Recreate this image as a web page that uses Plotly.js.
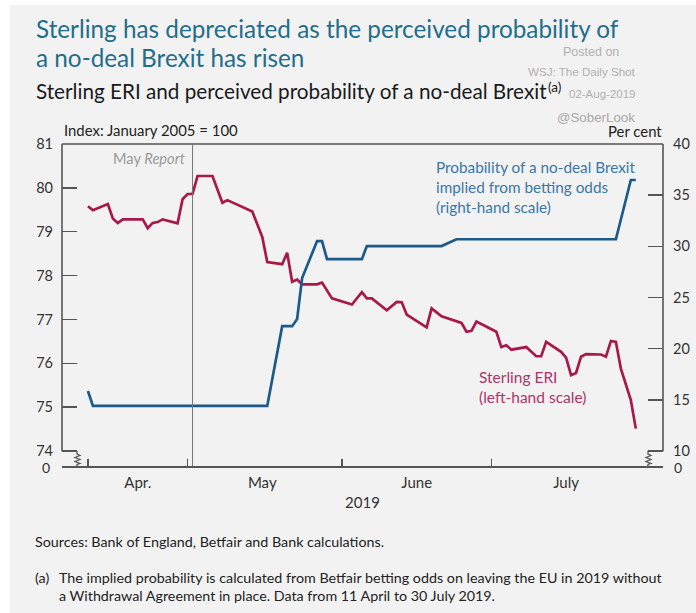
<!DOCTYPE html>
<html>
<head>
<meta charset="utf-8">
<script src="https://cdn.plot.ly/plotly-3.0.1.min.js"></script>
<style>
  html, body { margin: 0; padding: 0; background: #ffffff; }
  #chart { width: 696px; height: 613px; }
</style>
</head>
<body>
<div id="chart"></div>
<script>
// ---------- data ----------
const eriDates = ['2019-04-11','2019-04-12','2019-04-15','2019-04-16','2019-04-17','2019-04-18','2019-04-22','2019-04-23','2019-04-24','2019-04-25','2019-04-26','2019-04-29','2019-04-30',
  '2019-05-01','2019-05-02','2019-05-03','2019-05-06','2019-05-08','2019-05-09','2019-05-11','2019-05-14','2019-05-16','2019-05-17','2019-05-20','2019-05-21','2019-05-22','2019-05-23','2019-05-24','2019-05-27','2019-05-28','2019-05-30',
  '2019-06-03','2019-06-05','2019-06-06','2019-06-07','2019-06-10','2019-06-12','2019-06-13','2019-06-14','2019-06-18','2019-06-19','2019-06-21','2019-06-24','2019-06-25','2019-06-26','2019-06-27','2019-06-28',
  '2019-07-02','2019-07-03','2019-07-04','2019-07-05','2019-07-08','2019-07-10','2019-07-11','2019-07-12','2019-07-15','2019-07-16','2019-07-17','2019-07-18','2019-07-19','2019-07-20','2019-07-23','2019-07-24','2019-07-25','2019-07-26','2019-07-27','2019-07-29','2019-07-30'];
const eriValues = [79.58,79.49,79.63,79.30,79.20,79.28,79.28,79.08,79.20,79.22,79.28,79.19,79.74,
  79.86,79.86,80.27,80.27,79.66,79.72,79.61,79.46,78.88,78.31,78.26,78.52,77.86,77.91,77.80,77.80,77.84,77.48,
  77.34,77.62,77.48,77.48,77.21,77.40,77.39,77.11,76.82,77.25,77.07,76.97,76.92,76.72,76.74,76.95,
  76.72,76.37,76.41,76.31,76.37,76.16,76.16,76.49,76.26,76.13,75.73,75.78,76.15,76.21,76.20,76.15,76.51,76.49,75.88,75.16,74.51];

const probDates = ['2019-04-11','2019-04-12','2019-05-17','2019-05-20','2019-05-22','2019-05-23','2019-05-24','2019-05-27','2019-05-28','2019-05-29','2019-06-05','2019-06-06','2019-06-21','2019-06-24','2019-07-26','2019-07-29','2019-07-30'];
const probValues = [15.86,14.4,14.4,22.2,22.2,22.9,26.9,30.5,30.5,28.75,28.75,30.03,30.03,30.69,30.69,36.48,36.48];

const monthTickDates = ['2019-04-21','2019-05-16','2019-06-16','2019-07-16'];
const monthTickLabels = ['Apr.','May','June','July'];
const monthBoundaries = ['2019-04-11','2019-05-01','2019-06-01','2019-07-01'];
const leftTicks = [74,75,76,77,78,79,80,81];
const rightTicks = [10,15,20,25,30,35,40];
const mayReportDate = '2019-05-02';

// ---------- helpers (page pixel -> paper) ----------
const L = 62, R = 663, T = 144, B = 466;
const PX = x => (x - L) / (R - L);
const PY = y => (B - y) / (B - T);
const path = pts => pts.map((p, i) => (i ? 'L' : 'M') + PX(p[0]).toFixed(4) + ',' + PY(p[1]).toFixed(4)).join(' ');

const FONT = 'Lato, "Open Sans", sans-serif';
const WM = 'Liberation Sans, Arial, sans-serif';
const AX = '#555555';
const RED = '#a8184b';
const BLUE = '#1c5a8a';

const traces = [
  { x: eriDates, y: eriValues, type: 'scatter', mode: 'lines', yaxis: 'y',
    line: { color: RED, width: 2.7 }, hoverinfo: 'skip', showlegend: false },
  { x: probDates, y: probValues, type: 'scatter', mode: 'lines', yaxis: 'y2',
    line: { color: BLUE, width: 2.7 }, hoverinfo: 'skip', showlegend: false }
];

function ann(text, x, y, opts) {
  return Object.assign({ text: text, x: PX(x), y: PY(y), xref: 'paper', yref: 'paper',
    showarrow: false, xanchor: 'left', yanchor: 'middle',
    font: { family: FONT, size: 13, color: '#222' } }, opts || {});
}

const annotations = [
  ann('Sterling has depreciated as the perceived probability of', 34, 28, { font: { family: FONT, size: 24.3, color: '#1f6e8c' } }),
  ann('a no-deal Brexit has risen', 34, 57, { font: { family: FONT, size: 24.3, color: '#1f6e8c' } }),
  ann('Sterling ERI and perceived probability of a no-deal Brexit', 34, 91, { font: { family: FONT, size: 20.7, color: '#1a1a1a' } }),
  ann('(a)', 546, 87, { font: { family: FONT, size: 13.5, color: '#1a1a1a' } }),
  ann('Posted on', 561, 52, { font: { family: WM, size: 12.5, color: '#b0b0b0' } }),
  ann('WSJ: The Daily Shot', 638, 71, { xanchor: 'right', font: { family: WM, size: 11.6, color: '#b0b0b0' } }),
  ann('02-Aug-2019', 638, 94, { xanchor: 'right', font: { family: WM, size: 11.5, color: '#b0b0b0' } }),
  ann('@SoberLook', 637, 118, { xanchor: 'right', font: { family: WM, size: 13.3, color: '#a8a8a8' } }),
  ann('Index: January 2005 = 100', 62, 130, { font: { family: FONT, size: 14.9, color: '#222' } }),
  ann('Per cent', 664, 131, { xanchor: 'right', font: { family: FONT, size: 14.9, color: '#222' } }),
  ann('May <i>Report</i>', 187, 158, { xanchor: 'right', font: { family: FONT, size: 14.6, color: '#9a9a9a' } }),
  ann('Probability of a no-deal Brexit<br>implied from betting odds<br>(right-hand scale)', 434, 187, { align: 'left', font: { family: FONT, size: 15.3, color: '#3a78a6' } }),
  ann('Sterling ERI<br>(left-hand scale)', 477, 387, { align: 'left', font: { family: FONT, size: 15.5, color: '#b03468' } }),
  ann('0', 52, 468, { xanchor: 'right', font: { family: FONT, size: 14, color: '#333' } }),
  ann('0', 672, 468, { font: { family: FONT, size: 14, color: '#333' } }),
  ann('Sources: Bank of England, Betfair and Bank calculations.', 33, 541, { font: { family: FONT, size: 14.3, color: '#222' } }),
  ann('(a)', 33, 577, { font: { family: FONT, size: 14.3, color: '#222' } }),
  ann('The implied probability is calculated from Betfair betting odds on leaving the EU in 2019 without', 57, 577, { font: { family: FONT, size: 14.3, color: '#222' } }),
  ann('a Withdrawal Agreement in place. Data from 11 April to 30 July 2019.', 57, 595, { font: { family: FONT, size: 14.3, color: '#222' } })
];

const lineStyle = { color: AX, width: 1.6 };
const shapes = [
  // white border of the screenshot
  { type: 'rect', xref: 'paper', yref: 'paper', x0: PX(0), x1: PX(10), y0: PY(613), y1: PY(0), fillcolor: '#ffffff', line: { width: 0 }, layer: 'below' },
  { type: 'rect', xref: 'paper', yref: 'paper', x0: PX(0), x1: PX(696), y0: PY(5), y1: PY(0), fillcolor: '#ffffff', line: { width: 0 }, layer: 'below' },
  // frame
  { type: 'line', xref: 'paper', yref: 'y', x0: 0, x1: 0, y0: 74, y1: 81, line: lineStyle },
  { type: 'line', xref: 'paper', yref: 'y2', x0: 1, x1: 1, y0: 10, y1: 40, line: lineStyle },
  { type: 'line', xref: 'paper', yref: 'paper', x0: 0, x1: 1, y0: 1, y1: 1, line: lineStyle },
  // axis breaks
  { type: 'path', xref: 'paper', yref: 'paper', line: { color: AX, width: 1.3 },
    path: path([[77,451],[77,454],[80,455.5],[75,457.5],[80,459.5],[75,461.5],[80,463.5],[77,464.5],[77,466]]) },
  { type: 'path', xref: 'paper', yref: 'paper', line: { color: AX, width: 1.3 },
    path: path([[648,451],[648,454],[651,455.5],[646,457.5],[651,459.5],[646,461.5],[651,463.5],[648,464.5],[648,466]]) },
  // May Report line
  { type: 'line', xref: 'x', yref: 'paper', x0: mayReportDate, x1: mayReportDate, y0: 0, y1: 1, line: { color: '#777', width: 1 } }
];

const layout = {
  width: 696, height: 613,
  margin: { l: L, r: 696 - R, t: T, b: 613 - B, pad: 0 },
  paper_bgcolor: '#f2f2f2', plot_bgcolor: '#f2f2f2',
  font: { family: FONT, size: 14, color: '#333' },
  showlegend: false,
  xaxis: {
    type: 'date', range: ['2019-04-05 19:00', '2019-08-04 11:00'],
    tickvals: monthTickDates, ticktext: monthTickLabels, ticks: '',
    tickfont: { family: FONT, size: 15, color: '#333' }, ticklabelstandoff: 2,
    showgrid: false, zeroline: false,
    showline: true, linecolor: AX, linewidth: 1.6,
    minor: { tickvals: monthBoundaries, ticks: 'inside', ticklen: 7, tickwidth: 1.5, tickcolor: AX, showgrid: false },
    title: { text: '2019', font: { family: FONT, size: 15, color: '#333' }, standoff: 8 }
  },
  yaxis: {
    range: [74 - 15 / 43.86, 81], tickvals: leftTicks, ticktext: leftTicks.map(String),
    ticks: 'inside', ticklen: 15, tickwidth: 1.5, tickcolor: AX, ticklabelstandoff: 8,
    showgrid: false, zeroline: false, showline: false,
    tickfont: { family: FONT, size: 14.5, color: '#333' }
  },
  yaxis2: {
    range: [10 - 15 / 10.233, 40], tickvals: rightTicks, ticktext: rightTicks.map(String),
    overlaying: 'y', side: 'right',
    ticks: 'inside', ticklen: 15, tickwidth: 1.5, tickcolor: AX, ticklabelstandoff: 9,
    showgrid: false, zeroline: false, showline: false,
    tickfont: { family: FONT, size: 14.5, color: '#333' }
  },
  annotations: annotations,
  shapes: shapes
};

Plotly.newPlot('chart', traces, layout, { staticPlot: true, displayModeBar: false });
</script>
</body>
</html>
